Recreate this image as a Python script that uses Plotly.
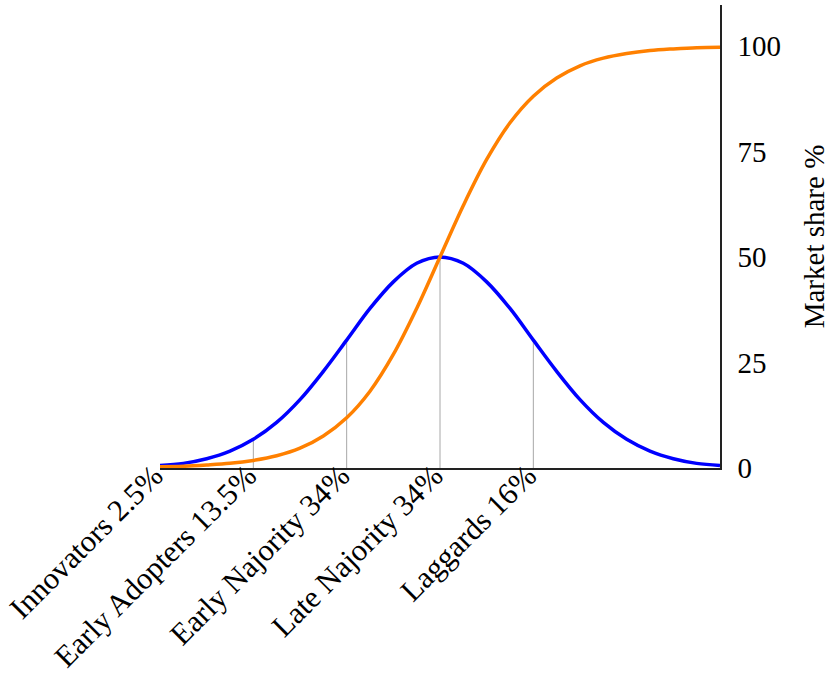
import plotly.graph_objects as go

# Position along the adoption axis (in standard deviations from the mean)
x_pos = [-3.0, -2.75, -2.5, -2.25, -2.0, -1.75, -1.5, -1.25, -1.0, -0.75, -0.5, -0.25,
         0.0, 0.25, 0.5, 0.75, 1.0, 1.25, 1.5, 1.75, 2.0, 2.25, 2.5, 2.75, 3.0]

# Blue bell curve: share of adopters
adopters = [0.6, 1.1, 2.2, 4.0, 6.8, 10.8, 16.2, 22.9, 30.3, 37.8, 44.1, 48.5,
            50.0, 48.5, 44.1, 37.8, 30.3, 22.9, 16.2, 10.8, 6.8, 4.0, 2.2, 1.1, 0.6]

# Orange S-curve: cumulative market share
market_share = [0.3, 0.4, 0.7, 1.1, 1.8, 2.9, 4.7, 7.6, 11.9, 18.2, 26.9, 37.8,
                50.0, 62.2, 73.1, 81.8, 88.1, 92.4, 95.3, 97.1, 98.2, 98.9, 99.3, 99.6, 99.7]

# Category boundaries and labels
boundary_x = [-2.0, -1.0, 0.0, 1.0]
boundary_y = [6.8, 30.3, 50.0, 30.3]
category_x = [-3.0, -2.0, -1.0, 0.0, 1.0]
category_labels = ["Innovators 2.5%", "Early Adopters 13.5%", "Early Najority 34%",
                   "Late Najority 34%", "Laggards 16%"]

y_ticks = [0, 25, 50, 75, 100]

FONT = "Liberation Serif"

fig = go.Figure()

# thin gray divider lines from axis up to bell curve
vx, vy = [], []
for bx, by in zip(boundary_x, boundary_y):
    vx += [bx, bx, None]
    vy += [0, by, None]
fig.add_trace(go.Scatter(x=vx, y=vy, mode="lines",
                         line=dict(color="#a8a8a8", width=1),
                         hoverinfo="skip", showlegend=False))

fig.add_trace(go.Scatter(x=x_pos, y=adopters, mode="lines", line_shape="spline",
                         line=dict(color="#0000ff", width=3.5), showlegend=False,
                         name="Adopters"))
fig.add_trace(go.Scatter(x=x_pos, y=market_share, mode="lines", line_shape="spline",
                         line=dict(color="#ff8000", width=3.5), showlegend=False,
                         name="Market share"))

fig.update_layout(
    width=830, height=679,
    margin=dict(l=160, r=110, t=5, b=211),
    paper_bgcolor="white", plot_bgcolor="white",
    font=dict(family=FONT, size=28, color="black"),
)
fig.update_xaxes(
    range=[-3, 3], showgrid=False, zeroline=False, automargin=False,
    showline=True, linecolor="#222222", linewidth=1.5,
    tickmode="array", tickvals=category_x, ticktext=category_labels,
    tickangle=-45, ticks="", tickfont=dict(family=FONT, size=30.5),
    ticklabelstandoff=-24, ticklabelshift=-6,
)
fig.update_yaxes(
    range=[0, 109.7], side="right", showgrid=False, zeroline=False, automargin=False,
    showline=True, linecolor="#222222", linewidth=1.5,
    tickmode="array", tickvals=y_ticks, ticks="",
    ticklabelstandoff=10,
    tickfont=dict(family=FONT, size=29),
    title=dict(text="Market share %", font=dict(family=FONT, size=29), standoff=30),
)

fig.write_html("out.html")
